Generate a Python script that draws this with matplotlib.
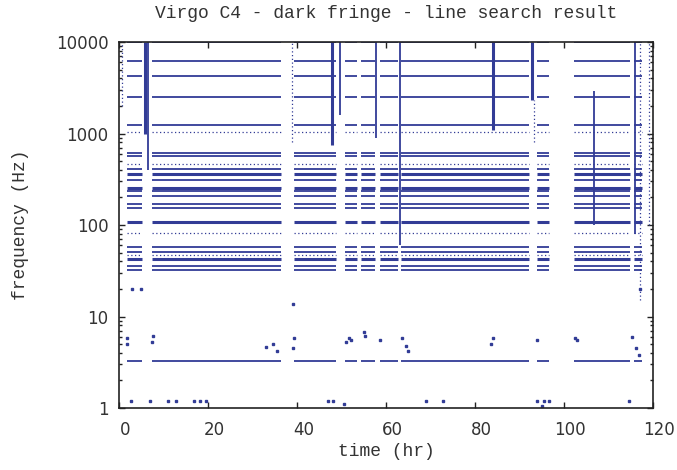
import numpy as np
import matplotlib
matplotlib.use("Agg")
import matplotlib.pyplot as plt
import matplotlib.transforms as mtransforms
from matplotlib.ticker import FixedLocator, LogLocator, NullFormatter

# data-taking segments (hr)
SEG_START = [1.8, 7.4, 39.2, 50.8, 54.3, 58.7, 63.4, 94.0, 102.3, 115.7]
SEG_END = [5.0, 36.3, 48.6, 53.5, 57.5, 62.7, 92.2, 96.7, 114.8, 117.5]

# persistent lines found by the search (Hz) and how strong they look
LINE_FREQS = [9900, 6200, 4200, 2500, 1250, 1050, 618, 569, 468, 412, 363, 307,
              255, 237, 205, 170, 154, 107, 82, 57, 51, 47, 42, 36, 32, 3.3]
LINE_KIND = ["medium", "medium", "medium", "medium", "medium", "weak", "medium",
             "medium", "weak", "medium", "strong", "medium", "strong", "medium",
             "medium", "medium", "medium", "strong", "weak", "medium", "medium",
             "weak", "strong", "medium", "medium", "medium"]

# transient vertical bursts: time (hr), lowest and highest frequency (Hz)
BURST_T = [0.6, 5.8, 6.4, 38.8, 47.9, 49.6, 57.8, 63.0, 84.0, 92.8, 93.2,
           106.8, 116.0, 117.0, 119.2]
BURST_FLO = [2000, 1000, 400, 800, 750, 1600, 900, 60, 1100, 2300, 800,
             100, 80, 15, 100]
BURST_FHI = [10000, 10000, 10000, 10000, 10000, 10000, 10000, 10000, 10000,
             10000, 2300, 2900, 10000, 10000, 10000]
BURST_KIND = ["weak", "strong", "medium", "weak", "strong", "medium", "medium",
              "medium", "strong", "strong", "weak", "medium", "medium", "weak",
              "weak"]

# isolated low-frequency candidates
DOT_T = [2.7, 6.9, 11.0, 12.8, 16.8, 18.1, 19.5, 47.0, 48.1, 50.6, 68.9, 72.8,
         94.0, 95.4, 96.7, 95.0, 114.6,
         1.8, 1.8, 7.4, 7.6, 33.0, 34.5, 35.5, 39.0, 39.2, 51.0, 51.6, 52.0,
         55.0, 55.2, 58.7, 63.6, 64.5, 65.0, 83.6, 84.0, 94.0, 102.4, 103.0,
         115.3, 116.2, 116.8, 117.0, 2.9, 4.9, 39.0]
DOT_F = [1.2, 1.2, 1.2, 1.2, 1.2, 1.2, 1.2, 1.2, 1.2, 1.1, 1.2, 1.2,
         1.2, 1.2, 1.2, 1.05, 1.2,
         5.0, 5.8, 5.2, 6.2, 4.6, 5.0, 4.2, 4.5, 5.8, 5.3, 5.8, 5.5,
         6.8, 6.2, 5.5, 5.8, 4.8, 4.2, 5.0, 5.8, 5.5, 5.8, 5.6,
         6.0, 4.5, 3.8, 20, 20, 20, 13.8]

BLUE = "#323c96"
GREY = "#333333"
LW = {"strong": 2.2, "medium": 1.3, "weak": 0.9}
LS = {"strong": "-", "medium": "-", "weak": (0, (1, 2))}

plt.rcParams["font.family"] = ["Liberation Mono", "DejaVu Sans Mono"]
fig = plt.figure(figsize=(6.77, 4.70), dpi=100)
ax = fig.add_axes([0.1765, 0.1319, 0.788, 0.7787])

for f, kind in zip(LINE_FREQS, LINE_KIND):
    ax.hlines([f] * len(SEG_START), SEG_START, SEG_END, colors=BLUE,
              linewidth=LW[kind], linestyles=LS[kind])

for t, lo, hi, kind in zip(BURST_T, BURST_FLO, BURST_FHI, BURST_KIND):
    ax.vlines(t, lo, hi, colors=BLUE, linewidth=LW[kind],
              linestyles=LS[kind])

ax.plot(DOT_T, DOT_F, "s", color=BLUE, markersize=1.5, linestyle="none")

ax.set_yscale("log")
ax.set_xlim(0, 120)
ax.set_ylim(1, 10000)
ax.xaxis.set_major_locator(FixedLocator([0, 20, 40, 60, 80, 100, 120]))
ax.yaxis.set_major_locator(FixedLocator([1, 10, 100, 1000, 10000]))
ax.yaxis.set_minor_locator(LogLocator(base=10, subs=np.arange(2, 10)))
ax.yaxis.set_minor_formatter(NullFormatter())
ax.set_yticklabels(["1", "10", "100", "1000", "10000"])

ax.tick_params(which="both", direction="in", top=True, right=True,
               colors="#222222", labelcolor=GREY, width=1)
ax.tick_params(which="major", length=4.5)
ax.tick_params(which="minor", length=2.5)
ax.tick_params(axis="x", pad=9)
ax.tick_params(axis="y", pad=8)
for lab in ax.get_xticklabels() + ax.get_yticklabels():
    lab.set_fontfamily("DejaVu Sans")
    lab.set_fontsize(12)
# gnuplot puts the x labels a few pixels right of their ticks
shift = mtransforms.ScaledTranslation(6 / 100, 0, fig.dpi_scale_trans)
for lab in ax.get_xticklabels():
    lab.set_transform(lab.get_transform() + shift)
for s in ax.spines.values():
    s.set_color("#222222")
    s.set_linewidth(1.2)

ax.set_xlabel("time (hr)", fontsize=13, color=GREY, labelpad=3)
ax.set_ylabel("frequency (Hz)", fontsize=13, color=GREY, labelpad=19)
ax.set_title("Virgo C4 - dark fringe - line search result", fontsize=13,
             color=GREY, pad=17)

fig.savefig("out.png", dpi=100)
